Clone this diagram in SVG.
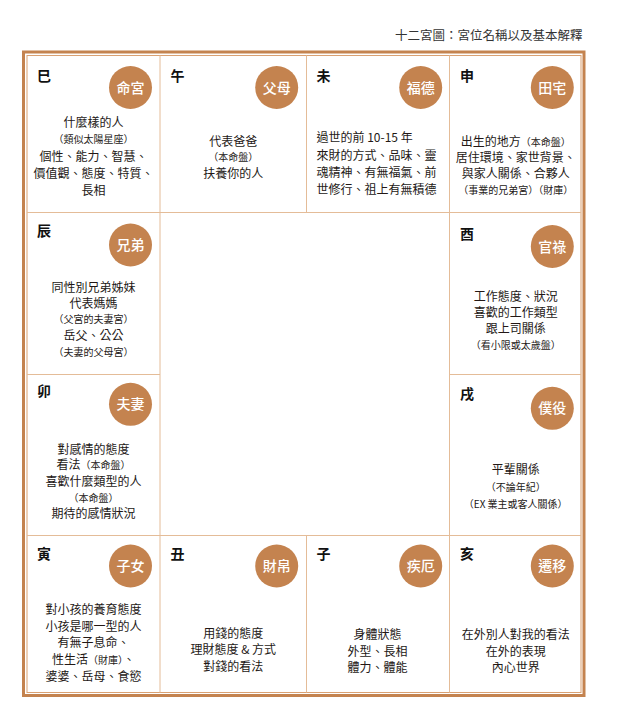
<svg xmlns="http://www.w3.org/2000/svg" width="619" height="725" viewBox="0 0 619 725">
<style>
text{font-family:"Noto Sans CJK TC","Noto Sans CJK SC",sans-serif;}
.title{font-size:12.5px;fill:#333;text-anchor:end;}
.br{font-size:14px;font-weight:bold;fill:#111;}
.badge{fill:#C4834F;}
.bt{font-size:14px;font-weight:500;fill:#fff;text-anchor:middle;}
.t{font-size:12px;fill:#231815;text-anchor:middle;}
.tl{font-size:12px;fill:#231815;}
.s{font-size:10px;}
.grid{stroke:#E4BC98;stroke-width:1;fill:none;}
</style>
<rect width="619" height="725" fill="#fff"/>
<text class="title" x="582.5" y="40">十二宮圖：宮位名稱以及基本解釋</text>
<g id="frame">
<rect x="23.5" y="52" width="560.5" height="643.5" fill="none" stroke="#C4834F" stroke-width="3"/>
<rect x="27" y="55.5" width="554" height="637" fill="none" stroke="#D9A173" stroke-width="1"/>
</g>
<g id="connectors" class="grid">
<line x1="160" y1="55.5" x2="160" y2="692.5"/>
<line x1="449.5" y1="55.5" x2="449.5" y2="692.5"/>
<line x1="306.5" y1="55.5" x2="306.5" y2="212.5"/>
<line x1="306.5" y1="535.5" x2="306.5" y2="692.5"/>
<line x1="27" y1="212.5" x2="581" y2="212.5"/>
<line x1="27" y1="535.5" x2="581" y2="535.5"/>
<line x1="27" y1="374.5" x2="160" y2="374.5"/>
<line x1="449.5" y1="374.5" x2="581" y2="374.5"/>
</g>
<g id="si">
<text class="br" x="37" y="81">巳</text>
<circle class="badge" cx="130.5" cy="87.5" r="21.5"/>
<text class="bt" x="130.5" y="92.5">命宮</text>
<text class="t" x="93.5" y="126.5">什麼樣的人</text>
<text class="t s" x="93.5" y="143">（類似太陽星座）</text>
<text class="t" x="93.5" y="160.5">個性、能力、智慧、</text>
<text class="t" x="93.5" y="178">價值觀、態度、特質、</text>
<text class="t" x="93.5" y="195">長相</text>
</g>
<g id="wu">
<text class="br" x="170.5" y="81">午</text>
<circle class="badge" cx="276.7" cy="87.5" r="21.5"/>
<text class="bt" x="276.7" y="92.5">父母</text>
<text class="t" x="233.3" y="145.5">代表爸爸</text>
<text class="t s" x="233.3" y="160.5">（本命盤）</text>
<text class="t" x="233.3" y="178">扶養你的人</text>
</g>
<g id="wei">
<text class="br" x="316.5" y="81">未</text>
<circle class="badge" cx="420.7" cy="87.5" r="21.5"/>
<text class="bt" x="420.7" y="92.5">福德</text>
<text class="tl" x="316.5" y="142">過世的前 10-15 年</text>
<text class="tl" x="316.5" y="159.5">來財的方式、品味、靈</text>
<text class="tl" x="316.5" y="177">魂精神、有無福氣、前</text>
<text class="tl" x="316.5" y="194">世修行、祖上有無積德</text>
</g>
<g id="shen">
<text class="br" x="460" y="81">申</text>
<circle class="badge" cx="552.3" cy="87.5" r="21.5"/>
<text class="bt" x="552.3" y="92.5">田宅</text>
<text class="t" x="515.7" y="145.5">出生的地方<tspan class="s">（本命盤）</tspan></text>
<text class="t" x="515.7" y="162">居住環境、家世背景、</text>
<text class="t" x="515.7" y="178">與家人關係、合夥人</text>
<text class="t s" x="515.7" y="194">（事業的兄弟宮）（財庫）</text>
</g>
<g id="chen">
<text class="br" x="37" y="236">辰</text>
<circle class="badge" cx="130.5" cy="245" r="21.5"/>
<text class="bt" x="130.5" y="250">兄弟</text>
<text class="t" x="93.5" y="291.5">同性別兄弟姊妹</text>
<text class="t" x="93.5" y="307.5">代表媽媽</text>
<text class="t s" x="93.5" y="323">（父宮的夫妻宮）</text>
<text class="t" x="93.5" y="340">岳父、公公</text>
<text class="t s" x="93.5" y="356">（夫妻的父母宮）</text>
</g>
<g id="you">
<text class="br" x="460" y="239">酉</text>
<circle class="badge" cx="552.3" cy="246.5" r="21.5"/>
<text class="bt" x="552.3" y="251.5">官祿</text>
<text class="t" x="515.7" y="300.5">工作態度、狀況</text>
<text class="t" x="515.7" y="316.5">喜歡的工作類型</text>
<text class="t" x="515.7" y="332.5">跟上司關係</text>
<text class="t s" x="515.7" y="348.5">（看小限或太歲盤）</text>
</g>
<g id="mao">
<text class="br" x="37" y="396">卯</text>
<circle class="badge" cx="130.5" cy="404.3" r="21.5"/>
<text class="bt" x="130.5" y="409.3">夫妻</text>
<text class="t" x="93.5" y="453.5">對感情的態度</text>
<text class="t" x="93.5" y="469">看法<tspan class="s">（本命盤）</tspan></text>
<text class="t" x="93.5" y="485.5">喜歡什麼類型的人</text>
<text class="t s" x="93.5" y="501.5">（本命盤）</text>
<text class="t" x="93.5" y="517.5">期待的感情狀況</text>
</g>
<g id="xu">
<text class="br" x="460" y="398.5">戌</text>
<circle class="badge" cx="552.3" cy="408.3" r="21.5"/>
<text class="bt" x="552.3" y="413.3">僕役</text>
<text class="t" x="515.7" y="474">平輩關係</text>
<text class="t s" x="515.7" y="490.5">（不論年紀）</text>
<text class="t s" x="515.7" y="507.5">（EX 業主或客人關係）</text>
</g>
<g id="yin">
<text class="br" x="37" y="558.5">寅</text>
<circle class="badge" cx="130.5" cy="566" r="21.5"/>
<text class="bt" x="130.5" y="571">子女</text>
<text class="t" x="93.5" y="614">對小孩的養育態度</text>
<text class="t" x="93.5" y="630.5">小孩是哪一型的人</text>
<text class="t" x="93.5" y="647">有無子息命、</text>
<text class="t" x="93.5" y="663.5">性生活<tspan class="s">（財庫）</tspan>、</text>
<text class="t" x="93.5" y="680.5">婆婆、岳母、食慾</text>
</g>
<g id="chou">
<text class="br" x="170.5" y="558.5">丑</text>
<circle class="badge" cx="276.7" cy="566" r="21.5"/>
<text class="bt" x="276.7" y="571">財帛</text>
<text class="t" x="233.3" y="637.5">用錢的態度</text>
<text class="t" x="233.3" y="654">理財態度 &amp; 方式</text>
<text class="t" x="233.3" y="670.5">對錢的看法</text>
</g>
<g id="zi">
<text class="br" x="316.5" y="558.5">子</text>
<circle class="badge" cx="420.7" cy="566" r="21.5"/>
<text class="bt" x="420.7" y="571">疾厄</text>
<text class="t" x="377.5" y="639">身體狀態</text>
<text class="t" x="377.5" y="655.5">外型、長相</text>
<text class="t" x="377.5" y="672">體力、體能</text>
</g>
<g id="hai">
<text class="br" x="460" y="558.5">亥</text>
<circle class="badge" cx="552.3" cy="566" r="21.5"/>
<text class="bt" x="552.3" y="571">遷移</text>
<text class="t" x="515.7" y="639">在外別人對我的看法</text>
<text class="t" x="515.7" y="655.5">在外的表現</text>
<text class="t" x="515.7" y="672">內心世界</text>
</g>
</svg>
